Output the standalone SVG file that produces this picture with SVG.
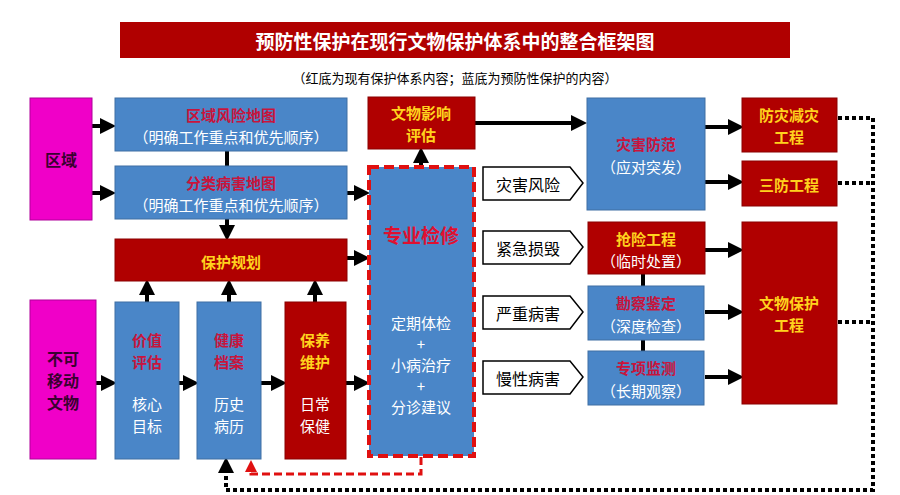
<svg xmlns="http://www.w3.org/2000/svg" width="900" height="495" viewBox="0 0 900 495">
<defs>
<style>
text{font-family:"Noto Sans CJK SC","Liberation Sans",sans-serif;text-anchor:middle;dominant-baseline:central}
.b{fill:#4a86c8;stroke:#3f6fa3;stroke-width:1}
.r{fill:#b00000;stroke:#8a0000;stroke-width:1}
.m{fill:#f000c8;stroke:#b0009a;stroke-width:1}
.tr{fill:#c8143c;font-size:15px;font-weight:bold}
.tw{fill:#fff;font-size:15px}
.ty{fill:#ffd21e;font-size:15px;font-weight:bold}
.tk{fill:#3a0030;font-size:16px;font-weight:bold}
.ln{stroke:#000;stroke-width:4;fill:none}
.dot{stroke:#000;stroke-width:4;fill:none;stroke-dasharray:4 3}
</style>
<marker id="a" markerWidth="4" markerHeight="4" refX="2" refY="2" orient="auto" markerUnits="strokeWidth"><path d="M0,0L4,2L0,4Z" fill="#000"/></marker>
<marker id="ar" markerWidth="4" markerHeight="4" refX="2" refY="2" orient="auto" markerUnits="strokeWidth"><path d="M0,0L4,2L0,4Z" fill="#e01010"/></marker>
</defs>
<rect width="900" height="495" fill="#fff"/>
<g id="title"><rect x="120" y="22" width="670" height="36" fill="#b00000"/>
<text x="455" y="40" fill="#fff" font-size="19" font-weight="bold">预防性保护在现行文物保护体系中的整合框架图</text>
<text x="455" y="77" fill="#000" font-size="13">（红底为现有保护体系内容；蓝底为预防性保护的内容）</text></g>

<g id="connectors">
<line class="ln" x1="92" y1="126" x2="108" y2="126" marker-end="url(#a)"/>
<line class="ln" x1="92" y1="193" x2="108" y2="193" marker-end="url(#a)"/>
<line class="ln" x1="227" y1="151" x2="227" y2="166"/>
<line class="ln" x1="227" y1="219" x2="227" y2="233" marker-end="url(#a)"/>
<line class="ln" x1="347" y1="193" x2="362" y2="193" marker-end="url(#a)"/>
<line class="ln" x1="347" y1="258" x2="362" y2="258" marker-end="url(#a)"/>
<line class="ln" x1="421" y1="166" x2="421" y2="155" marker-end="url(#a)"/>
<line class="ln" x1="147" y1="302" x2="147" y2="287" marker-end="url(#a)"/>
<line class="ln" x1="229" y1="302" x2="229" y2="287" marker-end="url(#a)"/>
<line class="ln" x1="315" y1="302" x2="315" y2="287" marker-end="url(#a)"/>
<line class="ln" x1="96" y1="383" x2="109" y2="383" marker-end="url(#a)"/>
<line class="ln" x1="179" y1="383" x2="191" y2="383" marker-end="url(#a)"/>
<line class="ln" x1="261" y1="383" x2="279" y2="383" marker-end="url(#a)"/>
<line class="ln" x1="346" y1="383" x2="362" y2="383" marker-end="url(#a)"/>
<line class="ln" x1="475" y1="123" x2="579" y2="123" marker-end="url(#a)"/>
<line class="ln" x1="705" y1="127" x2="736" y2="127" marker-end="url(#a)"/>
<line class="ln" x1="705" y1="182" x2="736" y2="182" marker-end="url(#a)"/>
<line class="ln" x1="705" y1="250" x2="736" y2="250" marker-end="url(#a)"/>
<line class="ln" x1="705" y1="312" x2="736" y2="312" marker-end="url(#a)"/>
<line class="ln" x1="705" y1="377" x2="736" y2="377" marker-end="url(#a)"/>
<line class="ln" x1="643" y1="274" x2="643" y2="286"/>
<line class="ln" x1="643" y1="340" x2="643" y2="351"/>
<polyline points="421,457 421,474 251,474 251,467" fill="none" stroke="#e01010" stroke-width="3" stroke-dasharray="8 4"/>
<line x1="251" y1="468" x2="251" y2="466" stroke="#e01010" stroke-width="3" marker-end="url(#ar)"/>
<path class="dot" d="M838,118H873V490H226V468"/>
<line class="ln" x1="226" y1="467" x2="226" y2="465" marker-end="url(#a)"/>
<path class="dot" d="M838,183H873M838,322H873"/>
</g>

<g id="n-quyu"><rect class="m" x="30" y="98" width="62" height="122"/><text class="tk" x="61" y="159">区域</text></g>
<g id="n-fxdt"><rect class="b" x="115" y="98" width="232" height="53"/><text class="tr" x="231" y="114">区域风险地图</text><text class="tw" x="231" y="136">（明确工作重点和优先顺序）</text></g>
<g id="n-bhdt"><rect class="b" x="115" y="166" width="232" height="53"/><text class="tr" x="231" y="182">分类病害地图</text><text class="tw" x="231" y="204">（明确工作重点和优先顺序）</text></g>
<g id="n-ghua"><rect class="r" x="115" y="239" width="232" height="42"/><text class="ty" x="231" y="261">保护规划</text></g>
<g id="n-yxpg"><rect class="r" x="368" y="97" width="107" height="52"/><text class="ty" x="421" y="112">文物影响</text><text class="ty" x="421" y="134">评估</text></g>
<g id="n-zyjx"><rect x="369" y="167" width="105" height="289" style="fill:#4a86c8;stroke:#e01010;stroke-width:4;stroke-dasharray:10 5"/>
<text x="421" y="234" fill="#e01030" font-size="19" font-weight="bold">专业检修</text>
<text class="tw" x="421" y="322">定期体检</text><text class="tw" x="421" y="343">+</text><text class="tw" x="421" y="364">小病治疗</text><text class="tw" x="421" y="385">+</text><text class="tw" x="421" y="406">分诊建议</text></g>
<g id="n-wenwu"><rect class="m" x="30" y="300" width="66" height="159"/><text class="tk" x="63" y="358">不可</text><text class="tk" x="63" y="380">移动</text><text class="tk" x="63" y="402">文物</text></g>
<g id="n-jzpg"><rect class="b" x="115" y="302" width="64" height="157"/><text class="tr" x="147" y="339">价值</text><text class="tr" x="147" y="361">评估</text><text class="tw" x="147" y="403">核心</text><text class="tw" x="147" y="425">目标</text></g>
<g id="n-jkda"><rect class="b" x="197" y="302" width="64" height="157"/><text class="tr" x="229" y="339">健康</text><text class="tr" x="229" y="361">档案</text><text class="tw" x="229" y="403">历史</text><text class="tw" x="229" y="425">病历</text></g>
<g id="n-byfh"><rect class="r" x="285" y="302" width="61" height="157"/><text class="ty" x="315" y="339">保养</text><text class="ty" x="315" y="361">维护</text><text class="tw" x="315" y="403">日常</text><text class="tw" x="315" y="425">保健</text></g>
<g id="n-p1"><path d="M483,167H570L583,183L570,200H483Z" fill="#fff" stroke="#000" stroke-width="1.5"/><text x="528" y="184" font-size="16" fill="#000">灾害风险</text></g>
<g id="n-p2"><path d="M483,231H570L583,247L570,264H483Z" fill="#fff" stroke="#000" stroke-width="1.5"/><text x="528" y="248" font-size="16" fill="#000">紧急损毁</text></g>
<g id="n-p3"><path d="M483,296H570L583,312L570,329H483Z" fill="#fff" stroke="#000" stroke-width="1.5"/><text x="528" y="313" font-size="16" fill="#000">严重病害</text></g>
<g id="n-p4"><path d="M483,361H570L583,377L570,394H483Z" fill="#fff" stroke="#000" stroke-width="1.5"/><text x="528" y="378" font-size="16" fill="#000">慢性病害</text></g>
<g id="n-zhff"><rect class="b" x="587" y="98" width="118" height="112"/><text class="tr" x="646" y="143">灾害防范</text><text class="tw" x="646" y="166">（应对突发）</text></g>
<g id="n-fzjz"><rect class="r" x="742" y="98" width="95" height="54"/><text class="ty" x="789" y="114">防灾减灾</text><text class="ty" x="789" y="136">工程</text></g>
<g id="n-sfgc"><rect class="r" x="742" y="161" width="95" height="45"/><text class="ty" x="789" y="184">三防工程</text></g>
<g id="n-qxgc"><rect class="r" x="588" y="222" width="117" height="52"/><text class="ty" x="646" y="238">抢险工程</text><text class="tw" x="646" y="260">（临时处置）</text></g>
<g id="n-kcjd"><rect class="b" x="588" y="286" width="116" height="54"/><text class="tr" x="646" y="302">勘察鉴定</text><text class="tw" x="646" y="325">（深度检查）</text></g>
<g id="n-zxjc"><rect class="b" x="588" y="351" width="116" height="54"/><text class="tr" x="646" y="367">专项监测</text><text class="tw" x="646" y="390">（长期观察）</text></g>
<g id="n-wwbh"><rect class="r" x="742" y="222" width="95" height="182"/><text class="ty" x="789" y="302">文物保护</text><text class="ty" x="789" y="324">工程</text></g>
</svg>
